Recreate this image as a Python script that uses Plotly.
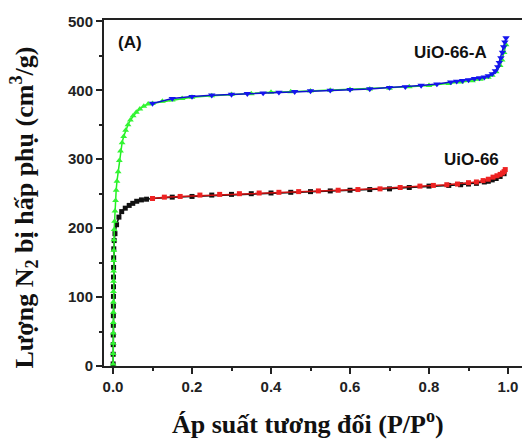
import plotly.graph_objects as go

# UiO-66-A adsorption (green, triangle-up)
a_ads_x = [0.0004, 0.0005, 0.0006, 0.0007, 0.0008, 0.0009, 0.0010, 0.0012, 0.0014, 0.0016,
           0.0018, 0.0021, 0.0025, 0.0030, 0.0040, 0.0050, 0.0065, 0.0080, 0.010, 0.013,
           0.016, 0.019, 0.023, 0.027, 0.032, 0.038, 0.044, 0.051, 0.059, 0.068, 0.078,
           0.089, 0.10,
           0.125, 0.15, 0.175, 0.20, 0.25, 0.30, 0.35, 0.40, 0.45, 0.50, 0.55, 0.60,
           0.65, 0.70, 0.75, 0.80, 0.85, 0.88, 0.91, 0.93, 0.95, 0.96, 0.97, 0.98,
           0.985, 0.99, 0.995]
a_ads_y = [3, 18, 33, 48, 63, 78, 93, 108, 123, 138,
           153, 168, 183, 198, 210, 225, 240, 255, 268, 282,
           298, 312, 324, 333, 342, 350, 357, 363, 368, 373, 377,
           380, 381,
           384, 386, 388, 390, 392, 394, 395, 397, 398, 399, 400, 401,
           402, 403, 405, 407, 410, 412, 414, 416, 419, 422, 427, 436,
           444, 455, 466]

# UiO-66-A desorption (blue, triangle-down)
a_des_x = [0.995, 0.992, 0.989, 0.986, 0.982, 0.978, 0.974, 0.968, 0.960, 0.950,
           0.940, 0.928, 0.915, 0.900, 0.885, 0.870, 0.855, 0.820, 0.780, 0.740,
           0.700, 0.650, 0.600, 0.550, 0.500, 0.460, 0.420, 0.380, 0.340, 0.300,
           0.250, 0.200, 0.150, 0.100]
a_des_y = [476, 470, 463, 455, 447, 440, 434, 428, 424, 421,
           419, 418, 417, 415, 414, 413, 412, 409, 407, 405,
           404, 402, 401, 400, 399, 398, 397, 396, 395, 394,
           393, 391, 388, 381]

# UiO-66 adsorption (black, square)
b_ads_x = [0.0004, 0.0005, 0.0006, 0.0007, 0.0008, 0.0009, 0.0010, 0.0011, 0.0012, 0.0013,
           0.0015, 0.0017, 0.0020, 0.0030, 0.0050, 0.0090, 0.015, 0.022, 0.031, 0.041,
           0.050, 0.060, 0.072, 0.085, 0.10,
           0.15, 0.20, 0.25, 0.30, 0.35, 0.40, 0.45, 0.50, 0.55, 0.60, 0.65, 0.70,
           0.75, 0.80, 0.85, 0.88, 0.90, 0.92, 0.94, 0.95, 0.96, 0.97, 0.98, 0.99]
b_ads_y = [3, 17, 31, 45, 59, 73, 87, 101, 115, 129,
           143, 157, 170, 182, 192, 205, 216, 224, 229, 233,
           236, 239, 241, 242, 243,
           245, 246, 248, 249, 250, 251, 252, 253, 254, 255, 256, 257,
           259, 261, 262, 263, 264, 265, 267, 268, 270, 272, 275, 279]

# UiO-66 desorption (red, square)
b_des_x = [0.993, 0.990, 0.986, 0.980, 0.972, 0.962, 0.950, 0.937, 0.920, 0.900,
           0.872, 0.845, 0.811, 0.777, 0.727, 0.676, 0.620, 0.570, 0.520, 0.470,
           0.420, 0.370, 0.320, 0.270, 0.220, 0.170, 0.130, 0.100]
b_des_y = [285, 282, 280, 278, 276, 274, 271, 269, 267, 266,
           264, 263, 262, 261, 259, 257, 256, 255, 254, 253,
           252, 251, 250, 249, 248, 246, 245, 243]

fig = go.Figure()
fig.add_trace(go.Scatter(x=b_ads_x, y=b_ads_y, mode="lines+markers",
                         line=dict(color="#111111", width=1.5),
                         marker=dict(symbol="square", size=5, color="#111111")))
fig.add_trace(go.Scatter(x=b_des_x, y=b_des_y, mode="lines+markers",
                         line=dict(color="#cc1111", width=1.5),
                         marker=dict(symbol="square", size=5, color="#ee2222")))
fig.add_trace(go.Scatter(x=a_ads_x, y=a_ads_y, mode="lines+markers",
                         line=dict(color="#22ee22", width=1.5),
                         marker=dict(symbol="triangle-up", size=6, color="#33f533")))
fig.add_trace(go.Scatter(x=a_des_x, y=a_des_y, mode="lines+markers",
                         line=dict(color="#1010d0", width=1.5),
                         marker=dict(symbol="triangle-down", size=6.5, color="#1515ee")))

tickfont = dict(family="Liberation Sans, Arial", size=15, color="#222222", weight="bold")
fig.update_layout(
    width=522, height=441,
    margin=dict(l=104, r=0, t=20, b=75),
    paper_bgcolor="white", plot_bgcolor="white",
    showlegend=False,
    xaxis=dict(range=[-0.0228, 1.0354], dtick=0.2, tick0=0, tickformat=".1f",
               showgrid=False, zeroline=False, showline=True, linecolor="#222222",
               linewidth=2, mirror=True, ticks="outside", ticklen=6, tickwidth=2,
               tickcolor="#222222", tickfont=tickfont,
               minor=dict(ticks="outside", dtick=0.1, ticklen=3, tickwidth=2,
                          tickcolor="#222222")),
    yaxis=dict(range=[0, 502], dtick=100, tick0=0,
               showgrid=False, zeroline=False, showline=True, linecolor="#222222",
               linewidth=2, ticks="outside", ticklen=6, tickwidth=2,
               tickcolor="#222222", tickfont=tickfont,
               minor=dict(ticks="outside", dtick=50, ticklen=3, tickwidth=2,
                          tickcolor="#222222")),
)

lab = dict(family="Liberation Sans, Arial", size=17, color="#111111", weight="bold")
fig.add_annotation(x=0.0, y=469, text="(A)", showarrow=False, xanchor="left",
                   font=lab, xshift=3)
fig.add_annotation(x=0.758, y=455, text="UiO-66-A", showarrow=False, xanchor="left",
                   font=lab)
fig.add_annotation(x=0.833, y=299, text="UiO-66", showarrow=False, xanchor="left",
                   font=lab)

title_font = dict(family="Liberation Serif, Times New Roman", size=26, color="#111111",
                  weight="bold")
fig.add_annotation(xref="paper", yref="paper", x=0.488, y=-0.162,
                   text="Áp suất tương đối (P/P<sup>o</sup>)", showarrow=False,
                   xanchor="center", yanchor="middle", font=title_font)
fig.add_annotation(xref="paper", yref="paper", x=-0.192, y=0.457,
                   text="Lượng N<sub>2</sub> bị hấp phụ (cm<sup>3</sup>/g)",
                   showarrow=False, textangle=-90,
                   xanchor="center", yanchor="middle", font=title_font)

fig.write_html("out.html")
